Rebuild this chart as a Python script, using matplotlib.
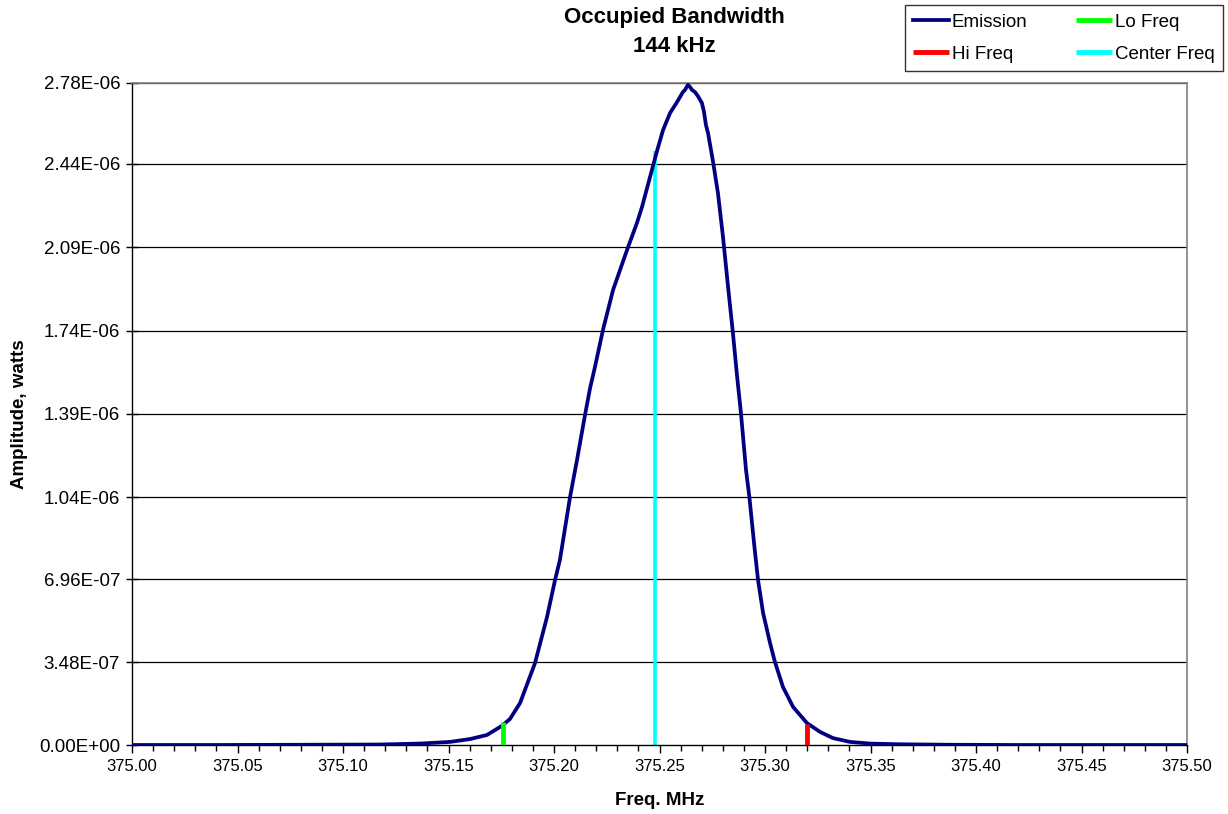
#!/usr/bin/env python3
"""Occupied bandwidth plot (emission spectrum with lo / hi / center markers)."""

import numpy as np
import matplotlib
matplotlib.use('Agg')
import matplotlib.pyplot as plt
from matplotlib.ticker import MultipleLocator, FixedLocator

plt.rcParams['font.family'] = ['Liberation Sans', 'DejaVu Sans']

# Emission trace (MHz, watts)
freq_mhz = [375.000, 375.040, 375.080, 375.1175, 375.1365, 375.1507, 375.1602,
            375.1682, 375.1754, 375.1791, 375.1839, 375.1910, 375.1967, 375.2005,
            375.2028, 375.2076, 375.2109, 375.2147, 375.2171, 375.2194, 375.2232,
            375.2280, 375.2313, 375.2351, 375.2393, 375.2417, 375.2455, 375.2488,
            375.2517, 375.2550, 375.2583, 375.2597, 375.2611, 375.2621, 375.2626,
            375.2635, 375.2645, 375.2654, 375.2668, 375.2682, 375.2701, 375.2711,
            375.2720, 375.2730, 375.2754, 375.2777, 375.2801, 375.2825, 375.2848,
            375.2867, 375.2886, 375.2910, 375.2926, 375.2950, 375.2967, 375.2991,
            375.3024, 375.3047, 375.3085, 375.3133, 375.3199, 375.3261, 375.3322,
            375.3403, 375.3498, 375.3640, 375.3877, 375.420, 375.460, 375.500]
amplitude_w = [0.0, 0.0, 1.0e-9, 2.0e-9, 6.0e-9, 1.3e-8, 2.5e-8,
               4.2e-8, 8.1e-8, 1.09e-7, 1.76e-7, 3.44e-7, 5.38e-7, 6.93e-7,
               7.77e-7, 1.041e-6, 1.197e-6, 1.386e-6, 1.499e-6, 1.587e-6, 1.743e-6,
               1.911e-6, 1.995e-6, 2.091e-6, 2.192e-6, 2.259e-6, 2.385e-6, 2.494e-6,
               2.583e-6, 2.654e-6, 2.700e-6, 2.721e-6, 2.742e-6, 2.751e-6, 2.759e-6,
               2.772e-6, 2.763e-6, 2.751e-6, 2.742e-6, 2.725e-6, 2.696e-6, 2.658e-6,
               2.604e-6, 2.570e-6, 2.448e-6, 2.318e-6, 2.133e-6, 1.923e-6, 1.730e-6,
               1.554e-6, 1.394e-6, 1.155e-6, 1.041e-6, 8.31e-7, 6.93e-7, 5.54e-7,
               4.28e-7, 3.49e-7, 2.44e-7, 1.60e-7, 9.2e-8, 5.5e-8, 2.9e-8,
               1.3e-8, 6.0e-9, 3.0e-9, 1.0e-9, 0.0, 0.0, 0.0]

# Marker lines (freq, top amplitude)
lo_freq, lo_amp = 375.176, 9.5e-8
hi_freq, hi_amp = 375.320, 8.8e-8
center_freq, center_amp = 375.248, 2.494e-6

y_ticks = [0.0, 3.48e-7, 6.96e-7, 1.04e-6, 1.39e-6, 1.74e-6, 2.09e-6, 2.44e-6, 2.78e-6]
y_tick_labels = ['0.00E+00', '3.48E-07', '6.96E-07', '1.04E-06', '1.39E-06',
                 '1.74E-06', '2.09E-06', '2.44E-06', '2.78E-06']
x_ticks = [375.00, 375.05, 375.10, 375.15, 375.20, 375.25, 375.30, 375.35,
           375.40, 375.45, 375.50]

W, H = 1228, 814
fig = plt.figure(figsize=(W / 100, H / 100), dpi=100)
ax = fig.add_axes([132 / W, 1 - 745 / H, (1187 - 132) / W, (745 - 83) / H])

# Horizontal gridlines
for yv in y_ticks[1:]:
    ax.axhline(yv, color='#000000', linewidth=0.9, zorder=1)

em_line, = ax.plot(freq_mhz, amplitude_w, color='#000080', linewidth=2.7,
                   label='Emission', zorder=3)
l_lo, = ax.plot([lo_freq, lo_freq], [0, lo_amp], color='#00ff00', linewidth=3.5,
                label='Lo Freq', zorder=4, solid_capstyle='butt')
l_hi, = ax.plot([hi_freq, hi_freq], [0, hi_amp], color='#ff0000', linewidth=3.5,
                label='Hi Freq', zorder=4, solid_capstyle='butt')
l_c, = ax.plot([center_freq, center_freq], [0, center_amp], color='#00ffff',
               linewidth=2.6, label='Center Freq', zorder=2, solid_capstyle='butt')

ax.set_xlim(375.0, 375.5)
ax.set_ylim(0, 2.78e-6)

ax.xaxis.set_major_locator(FixedLocator(x_ticks))
ax.set_xticklabels([f'{v:.2f}' for v in x_ticks])
ax.xaxis.set_minor_locator(MultipleLocator(0.01))
ax.yaxis.set_major_locator(FixedLocator(y_ticks))
ax.set_yticklabels(y_tick_labels)

ax.tick_params(axis='x', which='major', direction='out', length=6, width=1,
               labelsize=12, pad=4, colors='black')
ax.tick_params(axis='x', which='minor', direction='out', length=4, width=1)
ax.tick_params(axis='y', which='major', direction='inout', length=9, width=1,
               labelsize=13.5, pad=4)

for side in ['top', 'right']:
    ax.spines[side].set_color('#808080')
    ax.spines[side].set_linewidth(1.2)
for side in ['left', 'bottom']:
    ax.spines[side].set_color('black')
    ax.spines[side].set_linewidth(1.0)

ax.set_xlabel('Freq. MHz', fontsize=13.5, fontweight='bold', labelpad=13)
ax.set_ylabel('Amplitude, watts', fontsize=13.5, fontweight='bold', labelpad=8)

fig.text(674 / W, 1 - 18 / H, 'Occupied Bandwidth', ha='center', va='center',
         fontsize=16, fontweight='bold')
fig.text(674 / W, 1 - 46 / H, '144 kHz', ha='center', va='center',
         fontsize=16, fontweight='bold')

leg = fig.legend([em_line, l_hi, l_lo, l_c],
                 ['Emission', 'Hi Freq', 'Lo Freq', 'Center Freq'],
                 ncol=2, loc='upper right', bbox_to_anchor=(1223 / W, 1 - 5 / H),
                 bbox_transform=fig.transFigure, fontsize=13.5, frameon=True,
                 fancybox=False, edgecolor='black', handlelength=1.9,
                 handletextpad=0.15, columnspacing=2.6, borderpad=0.45,
                 labelspacing=0.8, borderaxespad=0)
leg.get_frame().set_linewidth(1.0)
for h in leg.legend_handles:
    h.set_linewidth(3.5)
leg.legend_handles[0].set_linewidth(2.7)

fig.savefig('out.png', dpi=100)
